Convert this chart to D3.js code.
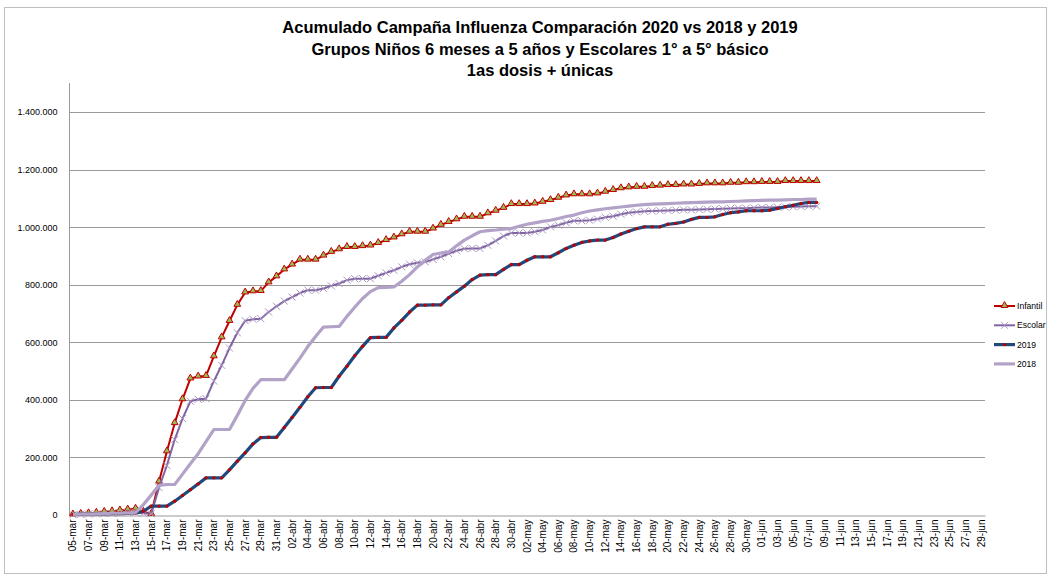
<!DOCTYPE html>
<html>
<head>
<meta charset="utf-8">
<title>Acumulado Campaña Influenza</title>
<script src="https://cdn.jsdelivr.net/npm/d3@7"></script>
<style>
  body { margin: 0; background: #fff; }
  text { font-family: "Liberation Sans", Arial, sans-serif; }
</style>
</head>
<body>
<script>
// Dimensiones
const w = 1050;
const h = 578;
const plotLeft = 69;
const plotRight = 985;
const plotTop = 83;
const plotBottom = 515;

// Fechas: una categoria por dia, 05-mar a 29-jun
const startDate = new Date(2020, 2, 5);
const endDate = new Date(2020, 5, 30);
const monthNames = ["ene", "feb", "mar", "abr", "may", "jun", "jul", "ago", "sep", "oct", "nov", "dic"];
const dayLabels = d3.timeDay.range(startDate, endDate)
  .map(d => d3.timeFormat("%d")(d) + "-" + monthNames[d.getMonth()]);

// Valores acumulados por dia (desde 05-mar)
const infantil = [
  2000, 4000, 6000, 8000, 11000, 13000, 16000, 19000, 22000, 11000, 4000,
  116000, 221000, 319000, 402000, 474000, 481000, 483000, 551000, 617000, 674000, 730000, 773000, 777000, 778000,
  808000, 829000, 853000, 870000, 887000, 887000, 887000, 901000, 914000, 923000, 931000, 931000, 934000, 936000,
  945000, 955000, 964000, 975000, 984000, 984000, 984000, 995000, 1008000,
  1018000, 1027000, 1036000, 1036000, 1036000, 1048000, 1057000, 1067000, 1080000, 1080000, 1080000, 1082000,
  1088000, 1094000, 1102000, 1110000, 1114000, 1114000, 1114000, 1117000, 1123000, 1129000, 1135000, 1138000,
  1140000, 1140000, 1143000, 1144000, 1146000, 1146000, 1148000, 1148000, 1150000, 1152000, 1152000, 1152000,
  1154000, 1154000, 1156000, 1156000, 1157000, 1157000, 1157000, 1160000, 1160000, 1160000, 1160000, 1160000
];
const escolar = [
  1000, 2000, 3000, 4000, 5000, 6000, 7000, 8000, 9000, 6000, 4000,
  95000, 172000, 262000, 335000, 395000, 402000, 404000, 465000, 520000, 580000, 633000, 675000, 680000, 682000,
  705000, 725000, 743000, 757000, 771000, 781000, 781000, 787000, 796000, 804000, 816000, 821000, 821000, 821000,
  831000, 841000, 850000, 862000, 871000, 876000, 879000, 888000, 897000,
  908000, 918000, 925000, 926000, 926000, 937000, 952000, 969000, 980000, 980000, 980000, 984000,
  990000, 1001000, 1007000, 1015000, 1022000, 1022000, 1024000, 1028000, 1034000, 1038000, 1045000, 1050000,
  1053000, 1055000, 1056000, 1057000, 1058000, 1059000, 1060000, 1060000, 1061000, 1062000, 1063000, 1064000,
  1065000, 1066000, 1066000, 1067000, 1068000, 1068000, 1069000, 1070000, 1071000, 1072000, 1073000, 1073000
];
const y2019 = [
  2000, 3000, 3000, 4000, 4000, 5000, 5000, 6000, 7000, 13000, 31000,
  31000, 31000, 48000, 68000, 88000, 108000, 129000, 129000, 129000, 157000, 187000, 216000, 247000, 269000,
  270000, 270000, 304000, 339000, 374000, 411000, 442000, 443000, 443000, 482000, 517000, 553000, 586000, 616000,
  617000, 617000, 650000, 676000, 705000, 729000, 729000, 730000, 730000,
  755000, 775000, 795000, 818000, 833000, 835000, 835000, 853000, 870000, 870000, 885000, 897000,
  897000, 897000, 911000, 926000, 937000, 947000, 952000, 955000, 955000, 964000, 976000, 986000,
  995000, 1001000, 1001000, 1001000, 1010000, 1013000, 1018000, 1027000, 1034000, 1034000, 1036000, 1044000,
  1050000, 1053000, 1057000, 1057000, 1057000, 1059000, 1065000, 1071000, 1076000, 1082000, 1086000, 1086000
];
const y2018 = [
  2000, 3000, 3000, 4000, 5000, 6000, 6000, 7000, 8000, 36000, 69000,
  103000, 106000, 106000, 142000, 178000, 213000, 255000, 297000, 297000, 297000, 346000, 398000, 440000, 470000,
  470000, 470000, 470000, 507000, 545000, 585000, 620000, 653000, 654000, 655000, 690000, 722000, 752000, 776000,
  790000, 791000, 792000, 812000, 835000, 862000, 885000, 905000, 910000,
  914000, 935000, 955000, 970000, 984000, 988000, 990000, 993000, 995000, 1003000, 1010000, 1015000,
  1020000, 1024000, 1030000, 1037000, 1042000, 1050000, 1056000, 1060000, 1064000, 1067000, 1070000, 1073000,
  1076000, 1078000, 1080000, 1081000, 1082000, 1083000, 1084000, 1085000, 1086000, 1087000, 1088000, 1088000,
  1089000, 1090000, 1091000, 1092000, 1093000, 1094000, 1094000, 1095000, 1096000, 1096000, 1097000, 1097000
];

const yTicks = [0, 200000, 400000, 600000, 800000, 1000000, 1200000, 1400000];
const titleLines = [
  "Acumulado Campaña Influenza Comparación 2020 vs 2018 y 2019",
  "Grupos Niños 6 meses a 5 años y Escolares 1° a 5° básico",
  "1as dosis + únicas"
];

const series = [
  { name: "Infantil", values: infantil, color: "#C00000", width: 2, marker: "triangle" },
  { name: "Escolar", values: escolar, color: "#8064A2", width: 2, marker: "cross" },
  { name: "2019", values: y2019, color: "#1F497D", width: 3.2, marker: "dot" },
  { name: "2018", values: y2018, color: "#B3A2C7", width: 3.2, marker: null }
];

// Escalas
const xScale = d3.scaleBand()
  .domain(dayLabels)
  .range([plotLeft, plotRight]);
const bw = xScale.bandwidth();
const xMid = i => xScale(dayLabels[i]) + bw / 2;

const yScale = d3.scaleLinear()
  .domain([0, 1400000])
  .range([plotBottom, 112]);

const fmt = d3.formatLocale({ decimal: ",", thousands: ".", grouping: [3], currency: ["", ""] }).format(",");

const svg = d3.select("body").append("svg")
  .attr("width", w)
  .attr("height", h);

// Borde del grafico
svg.append("rect")
  .attr("x", 4.5).attr("y", 7.5)
  .attr("width", 1042).attr("height", 566)
  .attr("fill", "#fff")
  .attr("stroke", "#bfbfbf");

// Titulo
svg.append("g").selectAll("text")
  .data(titleLines)
  .enter().append("text")
  .attr("x", 540)
  .attr("y", (d, i) => 33 + i * 21.5)
  .attr("text-anchor", "middle")
  .attr("font-size", "16.5px")
  .attr("font-weight", "bold")
  .attr("fill", "#000")
  .text(d => d);

// Lineas de grilla
svg.append("g").selectAll("line")
  .data(yTicks.slice(1))
  .enter().append("line")
  .attr("x1", plotLeft).attr("x2", plotRight)
  .attr("y1", d => Math.round(yScale(d)) + 0.5)
  .attr("y2", d => Math.round(yScale(d)) + 0.5)
  .attr("stroke", "#9a9a9a");

// Eje Y
const yAxis = d3.axisLeft(yScale).tickValues(yTicks).tickFormat(fmt).tickSize(0).tickPadding(12);
const gy = svg.append("g")
  .attr("transform", "translate(" + (plotLeft + 0.5) + ",0)")
  .call(yAxis);
gy.select(".domain").remove();
gy.selectAll("text").attr("font-size", "9px").attr("fill", "#000")
  .attr("font-family", "Liberation Sans, Arial, sans-serif");
svg.append("line")
  .attr("x1", plotLeft + 0.5).attr("x2", plotLeft + 0.5)
  .attr("y1", plotTop).attr("y2", plotBottom)
  .attr("stroke", "#9a9a9a");

// Eje X
const xAxis = d3.axisBottom(xScale)
  .tickValues(dayLabels.filter((d, i) => i % 2 === 0))
  .tickSize(0);
const gx = svg.append("g")
  .attr("transform", "translate(0," + (plotBottom + 0.5) + ")")
  .call(xAxis);
gx.select(".domain").attr("stroke", "#9a9a9a");
gx.selectAll("text")
  .attr("font-size", "10px")
  .attr("fill", "#000")
  .attr("font-family", "Liberation Sans, Arial, sans-serif")
  .attr("text-anchor", "end")
  .attr("transform", "rotate(-90)")
  .attr("x", -4)
  .attr("y", 0)
  .attr("dy", "0.35em");

// Marcadores
function drawMarker(g, type, x, y, color) {
  if (type === "triangle") {
    g.append("path")
      .attr("d", d3.symbol().type(d3.symbolTriangle).size(20)())
      .attr("transform", "translate(" + x + "," + (y - 0.5) + ")")
      .attr("fill", "#9BBB59")
      .attr("stroke", color)
      .attr("stroke-width", 1);
  } else if (type === "cross") {
    g.append("path")
      .attr("d", "M-3.5,-3.5L3.5,3.5M-3.5,3.5L3.5,-3.5")
      .attr("transform", "translate(" + x + "," + y + ")")
      .attr("stroke", "#A895C2")
      .attr("stroke-width", 1);
  } else if (type === "dot") {
    g.append("circle")
      .attr("cx", x).attr("cy", y).attr("r", 1.7)
      .attr("fill", "#C00000");
  }
}

const line = d3.line()
  .x((d, i) => xMid(i))
  .y(d => yScale(d));

series.forEach(s => {
  const g = svg.append("g");
  g.append("path")
    .datum(s.values)
    .attr("d", line)
    .attr("fill", "none")
    .attr("stroke", s.color)
    .attr("stroke-width", s.width)
    .attr("stroke-linejoin", "round");
  if (s.marker) {
    s.values.forEach((v, i) => drawMarker(g, s.marker, xMid(i), yScale(v), s.color));
  }
});

// Leyenda
const legend = svg.append("g");
series.forEach((s, i) => {
  const ly = 306 + i * 19.3;
  legend.append("line")
    .attr("x1", 994).attr("x2", 1015)
    .attr("y1", ly).attr("y2", ly)
    .attr("stroke", s.color)
    .attr("stroke-width", s.width);
  if (s.marker) drawMarker(legend, s.marker, 1004.5, ly, s.color);
  legend.append("text")
    .attr("x", 1017).attr("y", ly)
    .attr("dy", "0.35em")
    .attr("font-size", "8.6px")
    .attr("fill", "#000")
    .text(s.name);
});
</script>
</body>
</html>
